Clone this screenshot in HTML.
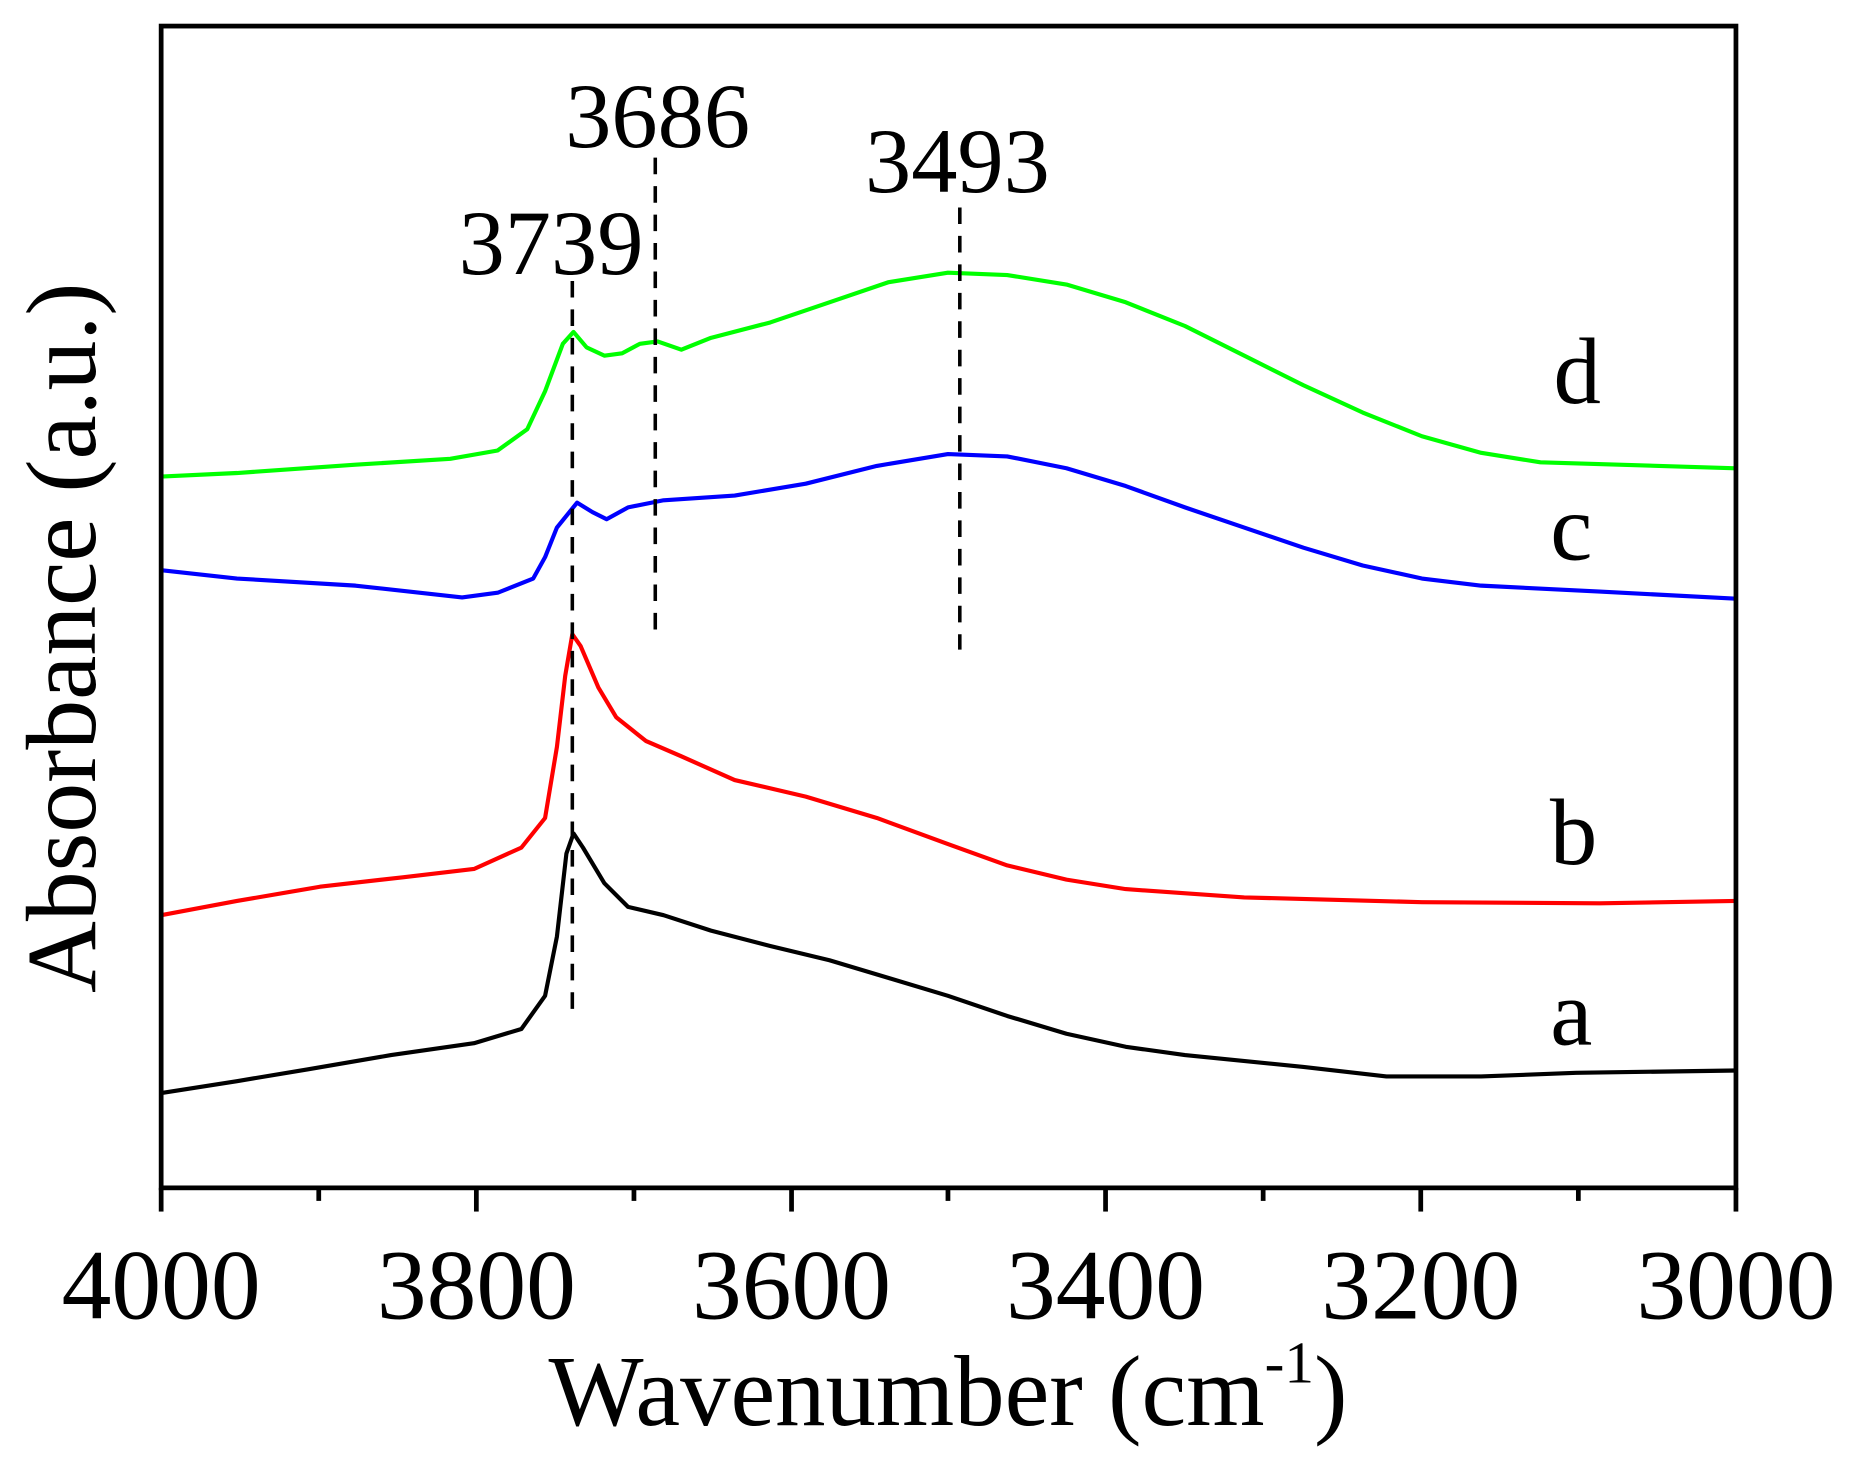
<!DOCTYPE html>
<html><head><style>html,body{margin:0;padding:0;background:#fff;}svg{display:block}</style></head>
<body>
<svg width="1858" height="1470" viewBox="0 0 1568 1240" preserveAspectRatio="none" xmlns="http://www.w3.org/2000/svg" font-family="Liberation Serif, serif">
<rect width="1568" height="1240" fill="#fff"/>
<g fill="none" stroke-width="3.5" stroke-linejoin="round">
<polyline stroke="#000" points="136,922 200,912 260,902 330,890 400,880 440,868 460,840 470,790 478,720 484,703 492,715 510,745 530,765 560,772 600,785 650,798 700,810 750,825 800,840 850,857 900,872 950,883 1000,890 1100,900 1170,908 1250,908 1330,905 1465,903"/>
<polyline stroke="#ff0000" points="136,772 200,760 270,748 340,740 400,733 440,715 460,690 470,630 477,570 483,535 490,545 505,580 520,605 545,625 575,638 620,658 680,672 740,690 800,712 850,730 900,742 950,750 1050,757 1200,761 1350,762 1465,760"/>
<polyline stroke="#0000ff" points="136,481 200,488 300,494 390,504 420,500 450,488 460,470 470,445 487,424 500,432 512,438 530,428 560,422 620,418 680,408 740,393 800,383 850,385 900,395 950,410 1000,428 1050,445 1100,462 1150,477 1200,488 1250,494 1350,499 1465,505"/>
<polyline stroke="#00ff00" points="136,402 200,399 300,392 380,387 420,380 445,362 460,330 475,290 484,280 495,293 510,300 525,298 540,290 555,288 575,295 600,285 650,272 700,255 750,238 800,230 850,232 900,240 950,255 1000,275 1050,300 1100,325 1150,348 1200,368 1250,382 1300,390 1465,395"/>
</g>
<g stroke="#000" stroke-width="3" stroke-dasharray="14,10">
<line x1="483" y1="237" x2="483" y2="860"/>
<line x1="553" y1="133" x2="553" y2="540"/>
<line x1="810" y1="175" x2="810" y2="548"/>
</g>
<rect x="136" y="22" width="1329" height="980" fill="none" stroke="#000" stroke-width="4"/>
<g stroke="#000" stroke-width="4">
<line x1="136" y1="1002" x2="136" y2="1022"/><line x1="402" y1="1002" x2="402" y2="1022"/><line x1="668" y1="1002" x2="668" y2="1022"/><line x1="933" y1="1002" x2="933" y2="1022"/><line x1="1199" y1="1002" x2="1199" y2="1022"/><line x1="1465" y1="1002" x2="1465" y2="1022"/>
<line x1="269" y1="1002" x2="269" y2="1013"/><line x1="535" y1="1002" x2="535" y2="1013"/><line x1="800" y1="1002" x2="800" y2="1013"/><line x1="1066" y1="1002" x2="1066" y2="1013"/><line x1="1332" y1="1002" x2="1332" y2="1013"/>
</g>
<g font-size="84" text-anchor="middle" fill="#000">
<text x="136" y="1112">4000</text><text x="402" y="1112">3800</text><text x="668" y="1112">3600</text><text x="933" y="1112">3400</text><text x="1199" y="1112">3200</text><text x="1465" y="1112">3000</text>
</g>
<text x="800" y="1202" font-size="85" text-anchor="middle">Wavenumber (cm<tspan font-size="50" dy="-36">-1</tspan><tspan dy="36">)</tspan></text>
<text transform="translate(80,538) rotate(-90)" font-size="84" text-anchor="middle">Absorbance (a.u.)</text>
<g font-size="78" text-anchor="middle">
<text x="555" y="124">3686</text><text x="465" y="231">3739</text><text x="808" y="162">3493</text>
</g>
<g font-size="80" text-anchor="middle">
<text x="1331" y="340">d</text><text x="1326" y="472">c</text><text x="1328" y="729">b</text><text x="1326" y="881">a</text>
</g>
</svg>
</body></html>
